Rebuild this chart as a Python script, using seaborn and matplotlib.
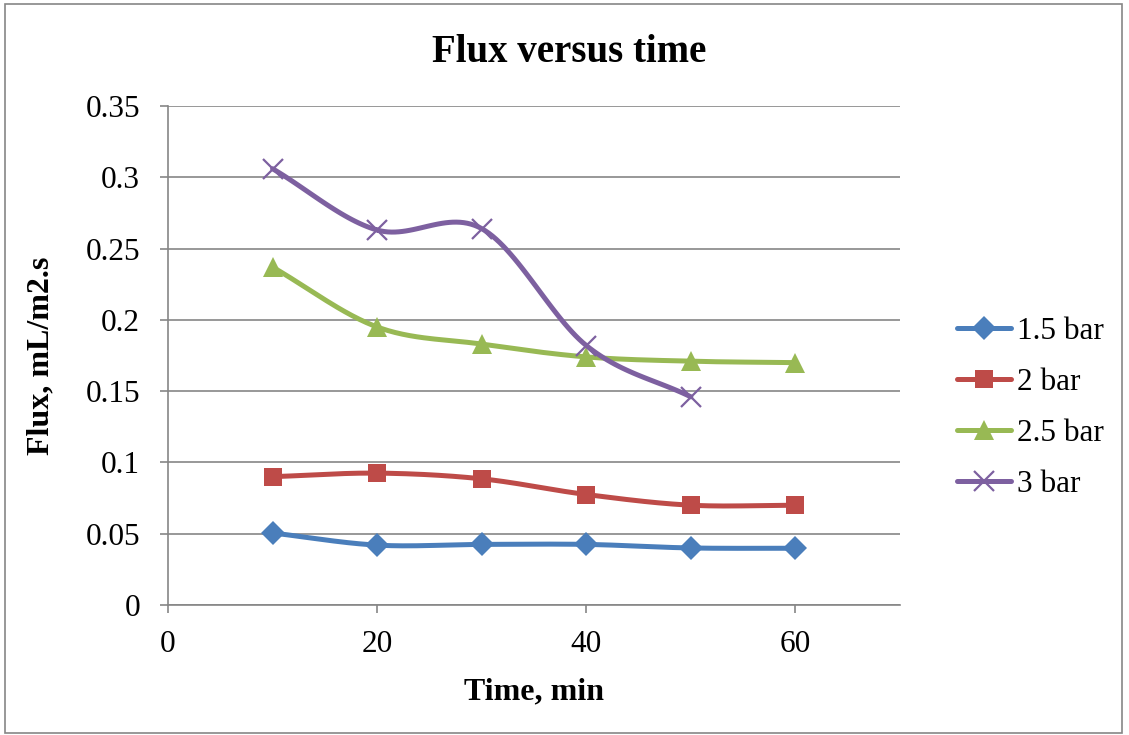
import numpy as np
import pandas as pd
import matplotlib
matplotlib.use("Agg")
import matplotlib.pyplot as plt
import seaborn as sns

time_min = [10, 20, 30, 40, 50, 60]
flux_15 = [0.0505, 0.042, 0.0425, 0.0425, 0.040, 0.0398]
flux_2 = [0.090, 0.0925, 0.0885, 0.0775, 0.070, 0.070]
flux_25 = [0.237, 0.195, 0.183, 0.174, 0.171, 0.170]
flux_3 = [0.306, 0.263, 0.264, 0.182, 0.146]
series_names = ["1.5 bar", "2 bar", "2.5 bar", "3 bar"]
colors = ["#4A7EBB", "#BE4B48", "#98B954", "#7D60A0"]
markers = ["D", "s", "^", "x"]
marker_sizes = [12, 13, 14, 14]


def smooth(x, y, n=30):
    # Catmull-Rom curve through the points, like Excel's smoothed line
    x = np.asarray(x, float)
    y = np.asarray(y, float)
    px = np.concatenate([[2 * x[0] - x[1]], x, [2 * x[-1] - x[-2]]])
    py = np.concatenate([[2 * y[0] - y[1]], y, [2 * y[-1] - y[-2]]])
    xs, ys = [], []
    t = np.linspace(0, 1, n)
    for i in range(1, len(px) - 2):
        for p, out in ((px, xs), (py, ys)):
            p0, p1, p2, p3 = p[i - 1], p[i], p[i + 1], p[i + 2]
            out.extend(0.5 * (2 * p1 + (-p0 + p2) * t
                              + (2 * p0 - 5 * p1 + 4 * p2 - p3) * t ** 2
                              + (-p0 + 3 * p1 - 3 * p2 + p3) * t ** 3))
    return xs, ys


sns.set_style("white")
plt.rcParams["font.family"] = ["Liberation Serif", "DejaVu Serif"]
plt.rcParams["text.color"] = "black"
plt.rcParams["axes.labelcolor"] = "black"
plt.rcParams["xtick.color"] = "black"
plt.rcParams["ytick.color"] = "black"

fig = plt.figure(figsize=(11.29, 7.35), dpi=100)
ax = fig.add_axes([168 / 1129, 1 - 605 / 735, (900 - 168) / 1129, (605 - 106) / 735])

all_series = [flux_15, flux_2, flux_25, flux_3]
handles = []
for name, vals, c, m, ms in zip(series_names, all_series, colors, markers, marker_sizes):
    xs, ys = smooth(time_min[:len(vals)], vals)
    sns.lineplot(x=xs, y=ys, ax=ax, color=c, linewidth=3.6, sort=False,
                 estimator=None, legend=False)
    mew = 1.6 if m == "x" else 0
    ax.plot(time_min[:len(vals)], vals, linestyle="none", marker=m,
            color=c, markersize=ms, markeredgewidth=mew)
    h, = ax.plot([], [], color=c, linewidth=3.6, marker=m, markersize=ms,
                 markeredgewidth=mew, label=name)
    handles.append(h)
if ax.get_legend() is not None:
    ax.get_legend().remove()

ax.set_xlim(0, 70)
ax.set_ylim(0, 0.35)
ax.set_xticks([0, 20, 40, 60])
ax.set_yticks(np.arange(0, 0.351, 0.05))
ax.set_yticklabels(["0", "0.05", "0.1", "0.15", "0.2", "0.25", "0.3", "0.35"])
ax.yaxis.grid(True, color="#868686", linewidth=1.2)
ax.set_axisbelow(True)
for s in ["top", "right"]:
    ax.spines[s].set_visible(False)
for s in ["left", "bottom"]:
    ax.spines[s].set_color("#868686")
    ax.spines[s].set_linewidth(1.2)
ax.tick_params(axis="both", which="both", direction="out", color="#868686",
               labelcolor="black", length=6, width=1.2, labelsize=22.5,
               bottom=True, left=True)
ax.tick_params(axis="y", pad=14)
ax.tick_params(axis="x", pad=12)

fig.text(569 / 1129, 1 - 52 / 735, "Flux versus time", fontsize=28,
         fontweight="bold", ha="center", va="center")
ax.set_xlabel("Time, min", fontsize=23, fontweight="bold", labelpad=13)
ax.set_ylabel("Flux, mL/m2.s", fontsize=23, fontweight="bold", labelpad=22)

fig.legend(handles=handles, loc="center left",
           bbox_to_anchor=(944 / 1129, 1 - 408 / 735), frameon=False,
           fontsize=22.5, handlelength=1.75, handletextpad=0.2,
           labelspacing=0.7, borderaxespad=0)

fig.patches.append(plt.Rectangle((0.004, 0.003), 0.99, 0.992, transform=fig.transFigure,
                                 fill=False, edgecolor="#868686", linewidth=1.2))

fig.savefig("out.png", dpi=100)
